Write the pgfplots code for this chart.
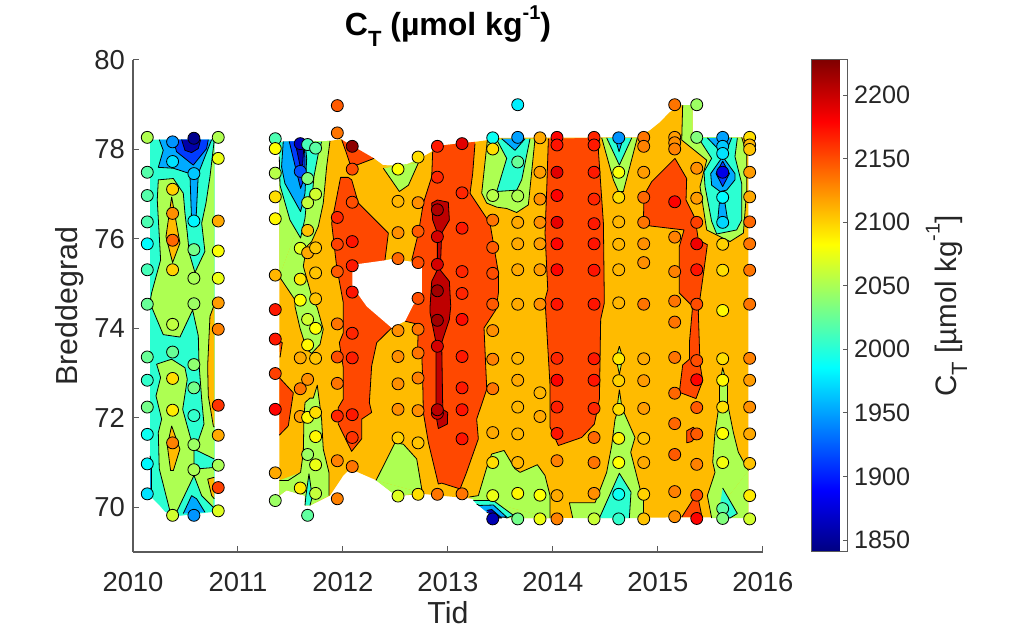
\documentclass[border=0pt]{standalone}
\usepackage{fontspec}
\setmainfont{Liberation Sans}
\usepackage{pgfplots}
\pgfplotsset{compat=1.18}
\definecolor{txt}{RGB}{38,38,38}
\definecolor{axl}{RGB}{90,90,90}
\definecolor{cNavy}{RGB}{0,0,170}
\definecolor{cBluB}{RGB}{0,60,255}
\definecolor{cBlue}{RGB}{0,170,255}
\definecolor{cCyan}{RGB}{44,255,210}
\definecolor{cGren}{RGB}{173,255,82}
\definecolor{cOran}{RGB}{255,187,0}
\definecolor{cRedO}{RGB}{255,72,0}
\definecolor{cDark}{RGB}{190,0,0}
\pgfplotsset{
  lv/.style={fill=#1,draw=black,line width=0.4pt,line join=round,mark=none},
  fo/.style={fill=#1,draw=none,mark=none},
  cl/.style={fill=none,draw=black,line width=0.4pt,line join=round,mark=none},
}
\newcommand{\fs}{\fontsize{12.6}{15}\selectfont}
\newcommand{\ft}{\fontsize{13.7}{16}\selectfont}
\newcommand{\fl}{\fontsize{15.2}{18}\selectfont}
\newcommand{\sbT}{\raisebox{-5.5pt}{\fontsize{11}{12}\selectfont T}}
\newcommand{\spm}{\raisebox{8.2pt}{\fontsize{10}{12}\selectfont -1}}
\begin{document}
\begin{tikzpicture}
\path[use as bounding box] (-66.5pt,-44pt) rectangle (447.5pt,276pt);
\begin{axis}[
  scale only axis, width=315pt, height=246pt,
  xmin=2010, xmax=2016, ymin=69, ymax=80,
  xtick={2010,...,2016}, ytick={70,72,...,80},
  axis lines*=left, axis line style={-,draw=axl,line width=0.6pt},
  tick align=inside, major tick length=3pt, tick style={draw=axl,line width=0.5pt},
  /pgf/number format/1000 sep={}, /pgf/number format/assume math mode=true,
  tick label style={font=\ft,text=txt},
  xticklabel style={yshift=-6.5pt}, yticklabel style={xshift=-0.5pt},
  xlabel={Tid}, ylabel={Breddegrad},
  label style={font=\fl,text=txt},
  xlabel style={yshift=2pt}, ylabel style={yshift=-1.5pt},
  title={\textbf{C\sbT{} (µmol kg\spm)}},
  title style={font=\fontsize{16}{19}\selectfont\bfseries,text=black,yshift=-3pt},
  colormap/jet, point meta min=1840.5, point meta max=2227.5,
  colorbar,
  colorbar shift/.style={xshift=24pt},
  colorbar style={
    at={(parent axis.north east)}, anchor=north west,
    width=18pt, samples=65,
    ytick={1850,1900,...,2200},
    ytick pos=right, yticklabel pos=right,
    tick align=inside, major tick length=2pt,
    axis line style={draw=axl,line width=0.5pt},
    tick style={draw=axl,line width=0.4pt},
    /pgf/number format/1000 sep={},
    /pgf/number format/assume math mode=true,
    tick label style={font=\fs,text=txt},
    ylabel={C\sbT{} [µmol kg\spm]},
    ylabel style={font=\fontsize{14.8}{17}\selectfont,text=txt,yshift=-1pt},
  },
]
% domain of the gridded field
\addplot[fo=cOran] coordinates {(2011.393,78.17)(2011.876,78.19)(2011.981,78.23)(2012.067,78.01)(2012.295,77.80)(2012.381,77.65)(2012.575,77.63)(2012.718,77.78)(2012.845,77.95)(2012.861,78.07)(2013.257,78.17)(2013.384,78.21)(2013.464,78.26)(2014.813,78.27)(2014.924,78.43)(2015.019,78.61)(2015.114,78.84)(2015.226,78.99)(2015.33,78.99)(2015.33,78.28)(2015.797,78.27)(2015.845,78.24)(2015.861,77.91)(2015.861,69.78)(2014.067,69.76)(2013.559,69.76)(2013.273,70.12)(2013.241,70.19)(2012.75,70.30)(2012.511,70.25)(2012.321,70.60)(2012.067,70.86)(2012.003,70.71)(2011.876,70.26)(2011.685,70.04)(2011.638,70.04)(2011.638,70.26)(2011.463,70.38)(2011.393,70.26)};
\addplot[fo=cCyan] coordinates {(2010.162,78.22)(2010.778,78.22)(2010.778,69.90)(2010.448,69.81)(2010.305,69.90)(2010.257,70.03)(2010.21,70.14)(2010.162,70.26)};
% 2010 block
\addplot[lv=cGren] coordinates {(2010.774,78.21)(2010.733,77.39)(2010.695,76.80)(2010.654,76.35)(2010.685,75.72)(2010.59,75.25)(2010.536,75.68)(2010.517,76.13)(2010.495,76.57)(2010.479,77.02)(2010.384,77.35)(2010.241,77.32)(2010.231,76.87)(2010.263,75.53)(2010.177,74.79)(2010.161,74.57)(2010.288,73.86)(2010.447,73.805)(2010.568,74.41)(2010.622,73.83)(2010.628,73.23)(2010.654,72.42)(2010.676,71.86)(2010.622,71.49)(2010.581,71.30)(2010.774,71.08)};
\addplot[lv=cGren] coordinates {(2010.225,73.20)(2010.368,73.31)(2010.495,73.12)(2010.517,72.86)(2010.473,72.19)(2010.542,71.60)(2010.581,71.30)(2010.581,70.71)(2010.40,69.82)(2010.358,69.86)(2010.25,70.86)(2010.241,71.67)(2010.273,71.97)(2010.219,72.49)(2010.263,72.90)(2010.225,73.20)};
\addplot[lv=cGren] coordinates {(2010.774,70.89)(2010.622,70.86)(2010.581,70.71)(2010.654,70.26)(2010.765,70.00)};
\addplot[lv=cOran] coordinates {(2010.774,74.53)(2010.733,74.27)(2010.711,73.16)(2010.717,72.49)(2010.765,71.82)(2010.774,71.79)};
\addplot[lv=cOran] coordinates {(2010.774,70.67)(2010.711,70.63)(2010.749,70.26)(2010.774,70.19)};
\addplot[lv=cOran] coordinates {(2010.368,76.94)(2010.447,75.905)(2010.377,75.47)(2010.314,76.05)(2010.368,76.94)};
\addplot[lv=cOran] coordinates {(2010.368,71.82)(2010.447,71.30)(2010.384,70.82)(2010.358,70.82)(2010.327,71.38)(2010.368,71.82)};
\addplot[lv=cBlue] coordinates {(2010.25,78.22)(2010.288,77.98)(2010.241,77.60)(2010.384,77.58)(2010.542,77.46)(2010.558,76.42)(2010.6,76.42)(2010.622,77.46)(2010.749,78.22)};
\addplot[lv=cBluB] coordinates {(2010.384,78.22)(2010.415,77.95)(2010.574,77.65)(2010.701,78.02)(2010.717,78.22)};
\addplot[lv=cNavy] coordinates {(2010.463,78.22)(2010.495,77.98)(2010.558,77.93)(2010.622,78.02)(2010.644,78.22)};
\addplot[lv=cBlue] coordinates {(2010.479,69.86)(2010.558,70.26)(2010.606,70.19)(2010.685,69.89)};
\addplot[lv=cBlue] coordinates {(2010.162,71.15)(2010.175,71.00)(2010.175,70.41)(2010.162,70.41)};
% 2011 left part
\addplot[fo=cGren] coordinates {(2011.876,78.19)(2011.393,78.17)(2011.393,75.16)};
\addplot[lv=cGren] coordinates {(2011.393,75.16)(2011.542,74.64)(2011.542,74.50)(2011.59,74.01)(2011.654,73.53)(2011.701,73.44)(2011.781,73.64)(2011.812,73.98)(2011.755,74.46)(2011.711,74.64)(2011.622,75.39)(2011.654,75.83)(2011.701,75.94)(2011.765,76.28)(2011.812,76.80)(2011.844,77.61)(2011.876,78.19)};
\addplot[fo=cCyan] coordinates {(2011.393,77.84)(2011.393,78.17)(2011.796,78.17)};
\addplot[lv=cCyan] coordinates {(2011.796,78.17)(2011.765,77.91)(2011.723,77.39)(2011.711,77.06)(2011.654,76.87)(2011.638,76.46)(2011.596,76.02)(2011.495,76.42)(2011.40,77.20)(2011.393,77.84)};
\addplot[lv=cBlue] coordinates {(2011.431,78.18)(2011.415,77.61)(2011.447,77.24)(2011.596,76.61)(2011.638,77.02)(2011.654,77.80)(2011.638,78.18)};
\addplot[lv=cBluB] coordinates {(2011.488,78.18)(2011.542,77.65)(2011.596,77.13)(2011.638,77.39)(2011.638,77.80)(2011.628,78.18)};
\addplot[lv=cNavy] coordinates {(2011.542,78.18)(2011.59,77.65)(2011.615,77.65)(2011.631,78.18)};
\addplot[lv=cRedO] coordinates {(2011.393,72.90)(2011.527,72.56)(2011.479,71.82)(2011.393,71.61)};
\addplot[lv=cRedO] coordinates {(2011.393,73.72)(2011.422,73.68)(2011.40,73.35)};
\addplot[fo=cGren] coordinates {(2011.866,70.78)(2011.866,70.26)(2011.685,70.04)(2011.638,70.04)(2011.638,70.26)(2011.463,70.38)(2011.393,70.26)(2011.393,70.60)(2011.60,70.78)};
\addplot[lv=cGren] coordinates {(2011.393,70.60)(2011.479,70.60)(2011.596,70.78)(2011.622,71.23)(2011.628,71.97)(2011.638,72.34)(2011.685,72.44)(2011.717,72.44)(2011.755,72.73)(2011.796,71.97)(2011.812,71.30)(2011.866,70.78)(2011.866,70.26)};
\addplot[lv=cCyan] coordinates {(2011.638,70.04)(2011.647,70.26)(2011.676,70.75)(2011.707,70.23)(2011.685,70.04)};
% red-orange around the hole
\addplot[lv=cRedO] coordinates {(2011.987,78.22)(2012.034,77.91)(2012.073,77.63)(2012.13,77.65)(2012.296,77.80)};
\addplot[lv=cRedO] coordinates {(2012.40,75.53)(2012.432,76.13)(2012.146,76.80)(2012.083,77.32)(2012.05,77.375)(2011.977,77.375)(2011.892,76.35)(2011.939,75.39)(2012.003,74.57)(2012.003,73.90)(2011.965,73.68)(2012.003,73.12)(2012.003,72.42)(2011.955,72.23)(2011.955,71.86)(2012.082,71.25)(2012.178,71.53)(2012.178,71.97)(2012.273,72.12)(2012.251,72.34)(2012.273,73.16)(2012.321,73.68)(2012.464,74.01)};
\addplot[lv=cGren] coordinates {(2012.384,77.58)(2012.537,77.06)(2012.623,77.20)(2012.718,77.70)};
\addplot[fo=cGren] coordinates {(2012.384,77.62)(2012.575,77.63)(2012.718,77.78)(2012.718,77.70)};
\addplot[fo=cGren] coordinates {(2012.756,70.32)(2012.511,70.25)(2012.315,70.60)};
\addplot[lv=cGren] coordinates {(2012.315,70.60)(2012.495,71.44)(2012.575,71.41)(2012.702,71.08)(2012.756,70.32)};
% 2013 red-orange and dark red
\addplot[fo=cRedO] coordinates {(2012.654,75.52)(2012.718,76.13)(2012.765,76.80)(2012.845,77.39)(2012.854,77.95)(2012.861,78.07)(2013.257,78.17)(2013.257,78.13)(2013.235,77.46)(2013.21,77.02)(2013.40,76.35)(2013.48,75.24)(2013.48,74.79)(2013.457,74.42)(2013.343,74.01)(2013.369,72.64)(2013.273,71.97)(2013.289,71.53)(2013.172,70.75)(2013.115,70.41)(2012.94,70.54)(2012.908,70.52)(2012.813,71.45)(2012.765,72.12)(2012.759,72.86)(2012.75,73.42)(2012.711,73.57)(2012.718,74.09)(2012.591,74.16)};
\addplot[cl] coordinates {(2012.654,75.52)(2012.718,76.13)(2012.765,76.80)(2012.845,77.39)(2012.854,77.95)};
\addplot[cl] coordinates {(2013.257,78.13)(2013.235,77.46)(2013.21,77.02)(2013.40,76.35)(2013.48,75.24)(2013.48,74.79)(2013.457,74.42)(2013.343,74.01)(2013.369,72.64)(2013.273,71.97)(2013.289,71.53)(2013.172,70.75)(2013.115,70.41)(2012.94,70.54)(2012.908,70.52)(2012.813,71.45)(2012.765,72.12)(2012.759,72.86)(2012.75,73.42)(2012.711,73.57)(2012.718,74.09)(2012.591,74.16)};
\addplot[lv=cDark] coordinates {(2012.899,76.87)(2013.003,76.82)(2013.013,76.42)(2012.94,76.13)(2012.931,75.57)(2012.924,75.31)(2013.013,75.05)(2013.026,74.49)(2013.013,74.20)(2012.94,73.68)(2012.95,72.19)(2012.997,72.12)(2012.994,71.86)(2012.908,71.76)(2012.886,72.05)(2012.886,73.68)(2012.829,74.35)(2012.829,74.49)(2012.845,75.05)(2012.899,75.31)(2012.899,76.13)(2012.854,76.42)(2012.845,76.80)(2012.899,76.87)};
% 2013.5 - 2014 top and bottom
\addplot[lv=cGren] coordinates {(2013.375,78.21)(2013.321,77.02)(2013.369,76.80)(2013.464,76.71)(2013.559,76.68)(2013.654,76.59)(2013.765,76.76)(2013.829,78.24)};
\addplot[lv=cCyan] coordinates {(2013.464,78.22)(2013.559,77.80)(2013.464,77.06)(2013.654,77.09)(2013.702,77.32)(2013.781,78.24)};
\addplot[lv=cBlue] coordinates {(2013.511,78.24)(2013.638,77.98)(2013.734,78.24)};
\addplot[fo=cGren] coordinates {(2013.972,69.76)(2013.559,69.76)(2013.273,70.12)(2013.203,70.23)};
\addplot[lv=cGren] coordinates {(2013.203,70.23)(2013.289,70.26)(2013.369,70.89)(2013.416,71.19)(2013.534,71.27)(2013.638,70.86)(2013.686,70.78)(2013.851,70.95)(2013.924,70.71)(2013.972,70.26)(2013.972,69.76)};
\addplot[lv=cCyan] coordinates {(2013.241,70.15)(2013.432,70.15)(2013.623,69.82)(2013.559,69.76)(2013.273,70.07)};
\addplot[lv=cBlue] coordinates {(2013.289,70.04)(2013.432,70.05)(2013.559,69.78)(2013.464,69.78)(2013.369,69.89)};
\addplot[lv=cNavy] coordinates {(2013.369,69.93)(2013.416,69.95)(2013.511,69.76)(2013.432,69.76)};
\addplot[lv=cRedO] coordinates {(2013.956,78.24)(2013.94,77.09)(2013.924,76.13)(2013.95,74.87)(2013.924,74.644)(2013.972,72.71)(2013.972,71.79)(2014.051,71.38)(2014.273,71.56)(2014.394,71.86)(2014.442,72.42)(2014.454,74.20)(2014.489,74.57)(2014.48,76.35)(2014.432,77.98)(2014.442,78.26)};
% 2014.6 column
\addplot[lv=cGren] coordinates {(2014.464,78.26)(2014.575,77.32)(2014.623,77.06)(2014.67,77.06)(2014.803,78.26)};
\addplot[lv=cCyan] coordinates {(2014.511,78.26)(2014.632,77.65)(2014.75,78.26)};
\addplot[lv=cBlue] coordinates {(2014.591,78.26)(2014.629,77.95)(2014.67,78.26)};
\addplot[lv=cGren] coordinates {(2014.632,73.60)(2014.664,73.34)(2014.632,72.97)(2014.60,73.34)(2014.632,73.60)};
\addplot[lv=cGren] coordinates {(2014.632,72.63)(2014.654,72.27)(2014.613,72.27)(2014.632,72.63)};
\addplot[lv=cGren] coordinates {(2014.188,69.76)(2014.156,70.10)(2014.40,70.10)(2014.511,70.78)(2014.559,71.38)(2014.591,71.97)(2014.632,72.27)(2014.676,72.12)(2014.781,71.56)(2014.74,71.23)(2014.829,70.41)(2014.861,70.19)(2014.861,69.76)};
\addplot[lv=cCyan] coordinates {(2014.442,69.76)(2014.632,70.76)(2014.743,70.34)(2014.727,69.76)};
% 2015 red-orange
\addplot[lv=cRedO] coordinates {(2015.162,77.80)(2014.94,77.28)(2014.867,76.98)(2014.861,76.39)(2014.924,76.29)(2015.248,76.20)(2015.203,75.83)(2015.203,74.79)(2015.321,74.51)(2015.327,74.42)(2015.299,73.68)(2015.299,73.31)(2015.235,73.18)(2015.203,72.57)(2015.362,72.43)(2015.426,72.83)(2015.40,73.20)(2015.384,74.35)(2015.394,74.57)(2015.438,75.31)(2015.47,75.87)(2015.384,75.98)(2015.353,76.46)(2015.267,76.87)(2015.273,77.35)(2015.162,77.80)};
\addplot[lv=cRedO] coordinates {(2015.273,71.71)(2015.337,71.79)(2015.384,71.64)(2015.321,71.47)(2015.273,71.44)(2015.273,71.71)};
\addplot[lv=cRedO] coordinates {(2015.226,69.78)(2015.337,70.19)(2015.384,70.19)(2015.419,69.78)};
% 2015.6 column
\addplot[fo=cGren] coordinates {(2015.235,78.99)(2015.226,78.21)(2015.464,77.76)(2015.40,77.17)(2015.464,76.20)(2015.686,75.94)(2015.813,76.13)(2015.845,77.09)(2015.845,77.91)(2015.797,78.27)(2015.33,78.28)(2015.33,78.99)};
\addplot[cl] coordinates {(2015.235,78.99)(2015.226,78.21)(2015.464,77.76)(2015.40,77.17)(2015.464,76.20)(2015.686,75.94)(2015.813,76.13)(2015.845,77.09)(2015.845,77.91)(2015.797,78.27)};
\addplot[lv=cCyan] coordinates {(2015.384,78.26)(2015.511,77.80)(2015.438,77.50)(2015.448,77.17)(2015.511,76.39)(2015.559,76.11)(2015.749,76.20)(2015.797,76.42)(2015.797,77.24)(2015.733,77.84)(2015.756,78.26)};
\addplot[lv=cBlue] coordinates {(2015.47,78.26)(2015.584,77.98)(2015.654,77.98)(2015.702,78.26)};
\addplot[lv=cBlue] coordinates {(2015.616,77.84)(2015.733,77.46)(2015.733,77.32)(2015.654,77.09)(2015.591,77.06)(2015.511,77.20)(2015.502,77.46)(2015.616,77.84)};
\addplot[lv=cBluB] coordinates {(2015.616,77.74)(2015.68,77.46)(2015.616,77.17)(2015.553,77.46)(2015.616,77.74)};
\addplot[lv=cBlue] coordinates {(2015.584,76.80)(2015.565,76.31)(2015.67,76.31)(2015.638,76.80)(2015.584,76.80)};
\addplot[fo=cGren] coordinates {(2015.861,70.82)(2015.861,69.76)(2015.511,69.76)};
\addplot[lv=cGren] coordinates {(2015.511,69.76)(2015.47,70.26)(2015.543,70.78)(2015.521,71.01)(2015.543,71.67)(2015.585,72.34)(2015.585,72.71)(2015.616,73.12)(2015.661,72.71)(2015.661,72.34)(2015.718,71.67)(2015.765,71.23)(2015.861,70.82)};
\addplot[lv=cCyan] coordinates {(2015.616,70.43)(2015.756,69.86)(2015.686,69.76)(2015.575,69.82)};
% hole without data
\addplot[fo=white] coordinates {(2012.089,75.42)(2012.40,75.52)(2012.464,75.55)(2012.75,75.46)(2012.75,74.644)(2012.67,74.53)(2012.623,74.31)(2012.591,74.16)(2012.464,74.01)(2012.226,74.49)(2012.089,74.94)};
% stations: (time, latitude) [C_T]
\addplot[scatter, only marks, mark=*, mark size=3pt, point meta=explicit,
  scatter/use mapped color={draw=black,fill=mapped color}, line width=0.4pt] coordinates {
(2010.136,78.27)[2052] (2010.136,77.49)[2018] (2010.136,76.97)[2018] (2010.136,76.38)[2015] (2010.136,75.89)[1985] (2010.136,75.31)[2012] (2010.136,74.54)[2025] (2010.136,73.36)[2025] (2010.136,72.84)[2005] (2010.136,72.24)[2030] (2010.136,71.63)[1990] (2010.136,70.97)[1983] (2010.136,70.30)[1975]
(2010.377,78.17)[1945] (2010.377,77.73)[1975] (2010.377,77.11)[2100] (2010.377,76.57)[2125] (2010.377,75.97)[2140] (2010.377,75.31)[2100] (2010.377,74.09)[2058] (2010.377,73.47)[2025] (2010.377,72.88)[2095] (2010.377,72.17)[2090] (2010.377,71.44)[2130] (2010.377,69.82)[2065]
(2010.58,78.25)[1845] (2010.58,77.46)[1965] (2010.58,76.40)[1983] (2010.58,75.76)[2030] (2010.58,75.12)[2050] (2010.58,74.55)[2045] (2010.58,73.19)[2040] (2010.58,72.67)[2030] (2010.58,72.05)[2005] (2010.58,71.40)[2045] (2010.58,70.84)[2050] (2010.58,69.82)[1945]
(2010.812,78.27)[2052] (2010.812,77.80)[2075] (2010.812,76.40)[2115] (2010.812,75.73)[2080] (2010.812,75.12)[2075] (2010.812,74.57)[2120] (2010.812,73.98)[2130] (2010.812,72.28)[2160] (2010.812,71.61)[2115] (2010.812,70.94)[2050] (2010.812,70.44)[2155] (2010.812,69.92)[2070]
(2011.355,78.24)[2015] (2011.355,78.02)[2082] (2011.355,77.47)[2055] (2011.355,76.94)[2095] (2011.355,76.45)[2085] (2011.355,75.19)[2110] (2011.355,74.42)[2170] (2011.355,73.76)[2170] (2011.355,72.99)[2155] (2011.355,72.19)[2178] (2011.355,70.77)[2115] (2011.355,70.15)[2045]
(2011.593,78.13)[1865] (2011.593,77.51)[1920] (2011.593,75.79)[2072] (2011.593,75.10)[2092] (2011.593,74.63)[2082] (2011.593,73.34)[2115] (2011.593,72.65)[2135] (2011.593,72.03)[2120] (2011.593,70.43)[2090]
(2011.663,78.11)[2012] (2011.663,77.35)[2035] (2011.663,76.81)[2060] (2011.663,76.19)[2105] (2011.663,75.69)[2115] (2011.663,74.20)[2065] (2011.663,73.63)[2085] (2011.663,72.86)[2125] (2011.663,72.01)[2085] (2011.663,71.18)[2045] (2011.663,69.82)[2022]
(2011.739,78.03)[2020] (2011.739,77.00)[2065] (2011.739,75.80)[2105] (2011.739,75.24)[2105] (2011.739,74.66)[2105] (2011.739,74.00)[2082] (2011.739,73.33)[2105] (2011.739,72.12)[2095] (2011.739,71.58)[2085] (2011.739,70.95)[2075] (2011.739,70.31)[2060]
(2011.946,78.98)[2145] (2011.946,78.37)[2135] (2011.946,76.48)[2165] (2011.946,75.88)[2155] (2011.946,75.27)[2145] (2011.946,74.10)[2135] (2011.946,73.36)[2150] (2011.946,72.77)[2135] (2011.946,72.04)[2165] (2011.946,71.04)[2130] (2011.946,70.19)[2130]
(2012.088,78.07)[2222] (2012.088,77.56)[2150] (2012.088,76.82)[2150] (2012.088,75.94)[2172] (2012.088,75.40)[2170] (2012.088,74.81)[2172] (2012.088,73.89)[2165] (2012.088,73.34)[2168] (2012.088,72.07)[2170] (2012.088,71.56)[2160] (2012.088,70.91)[2135]
(2012.524,77.56)[2082] (2012.524,76.84)[2110] (2012.524,76.14)[2125] (2012.524,75.56)[2140] (2012.524,73.95)[2125] (2012.524,73.37)[2125] (2012.524,72.76)[2125] (2012.524,72.19)[2125] (2012.524,71.55)[2100] (2012.524,70.25)[2070]
(2012.715,77.83)[2095] (2012.715,76.81)[2125] (2012.715,76.17)[2145] (2012.715,75.47)[2150] (2012.715,74.67)[2150] (2012.715,73.98)[2135] (2012.715,73.45)[2135] (2012.715,72.89)[2130] (2012.715,72.16)[2125] (2012.715,71.44)[2105] (2012.715,70.29)[2095]
(2012.899,78.07)[2170] (2012.899,77.38)[2165] (2012.899,76.65)[2210] (2012.899,76.05)[2195] (2012.899,75.43)[2195] (2012.899,74.84)[2215] (2012.899,74.18)[2215] (2012.899,73.60)[2195] (2012.899,72.10)[2195] (2012.899,72.18)[2205] (2012.899,70.29)[2135]
(2013.134,78.13)[2190] (2013.134,77.03)[2165] (2013.134,76.24)[2170] (2013.134,75.27)[2165] (2013.134,74.78)[2165] (2013.134,74.20)[2175] (2013.134,73.37)[2170] (2013.134,72.67)[2170] (2013.134,72.18)[2172] (2013.134,71.53)[2172] (2013.134,70.30)[2135]
(2013.426,78.26)[1990] (2013.426,78.01)[2095] (2013.426,76.97)[2055] (2013.426,76.42)[2135] (2013.426,75.81)[2145] (2013.426,75.23)[2150] (2013.426,74.54)[2145] (2013.426,73.95)[2125] (2013.426,73.31)[2130] (2013.426,72.65)[2135] (2013.426,71.67)[2115] (2013.426,71.00)[2095] (2013.426,70.26)[2075] (2013.426,69.74)[1860]
(2013.664,79.00)[1980] (2013.664,78.27)[1950] (2013.664,77.72)[2025] (2013.664,76.96)[2052] (2013.664,76.37)[2115] (2013.664,75.89)[2115] (2013.664,75.31)[2115] (2013.664,74.54)[2115] (2013.664,73.33)[2110] (2013.664,72.84)[2115] (2013.664,72.24)[2110] (2013.664,71.64)[2110] (2013.664,71.00)[2110] (2013.664,70.31)[2085] (2013.664,69.74)[2030]
(2013.876,78.26)[2115] (2013.876,77.49)[2120] (2013.876,76.89)[2125] (2013.876,76.37)[2125] (2013.876,75.89)[2120] (2013.876,75.31)[2120] (2013.876,74.54)[2125] (2013.876,72.56)[2110] (2013.876,72.03)[2115] (2013.876,70.27)[2082] (2013.876,69.74)[2075]
(2014.038,78.27)[2178] (2014.038,78.10)[2172] (2014.038,77.49)[2190] (2014.038,76.97)[2180] (2014.038,76.37)[2188] (2014.038,75.89)[2178] (2014.038,75.31)[2178] (2014.038,74.54)[2172] (2014.038,73.33)[2165] (2014.038,72.84)[2180] (2014.038,72.24)[2168] (2014.038,71.65)[2172] (2014.038,71.04)[2130] (2014.038,70.26)[2115] (2014.038,69.74)[2130]
(2014.391,78.27)[2165] (2014.391,78.10)[2170] (2014.391,77.49)[2170] (2014.391,76.89)[2165] (2014.391,76.34)[2170] (2014.391,75.89)[2172] (2014.391,75.30)[2172] (2014.391,74.54)[2172] (2014.391,73.32)[2170] (2014.391,72.84)[2172] (2014.391,72.21)[2165] (2014.391,71.56)[2140] (2014.391,71.00)[2135] (2014.391,70.31)[2125] (2014.391,69.74)[2062]
(2014.626,78.26)[1945] (2014.626,77.49)[2080] (2014.626,76.93)[2095] (2014.626,76.38)[2110] (2014.626,75.88)[2110] (2014.626,75.31)[2110] (2014.626,74.57)[2110] (2014.626,73.32)[2090] (2014.626,72.83)[2100] (2014.626,72.19)[2095] (2014.626,71.54)[2088] (2014.626,71.00)[2082] (2014.626,70.29)[1990] (2014.626,69.74)[2005]
(2014.864,78.27)[2135] (2014.864,78.07)[2130] (2014.864,77.49)[2120] (2014.864,76.93)[2140] (2014.864,76.37)[2135] (2014.864,75.89)[2125] (2014.864,75.47)[2125] (2014.864,74.54)[2135] (2014.864,73.32)[2115] (2014.864,72.83)[2120] (2014.864,72.21)[2120] (2014.864,71.54)[2105] (2014.864,71.00)[2115] (2014.864,70.29)[2100] (2014.864,69.74)[2105]
(2015.159,79.00)[2135] (2015.159,78.27)[2120] (2015.159,78.15)[2125] (2015.159,78.01)[2130] (2015.159,76.83)[2180] (2015.159,76.04)[2130] (2015.159,75.27)[2130] (2015.159,74.61)[2135] (2015.159,74.14)[2135] (2015.159,73.35)[2135] (2015.159,72.55)[2140] (2015.159,71.87)[2140] (2015.159,71.18)[2145] (2015.159,70.35)[2130] (2015.159,69.79)[2125]
(2015.369,79.00)[2045] (2015.369,78.27)[2035] (2015.369,77.58)[2125] (2015.369,76.91)[2120] (2015.369,76.37)[2155] (2015.369,75.89)[2185] (2015.369,75.31)[2172] (2015.369,74.54)[2150] (2015.369,73.28)[2150] (2015.369,72.85)[2178] (2015.369,72.23)[2145] (2015.369,71.64)[2145] (2015.369,70.96)[2130] (2015.369,70.27)[2150] (2015.369,69.75)[2178]
(2015.616,78.27)[1950] (2015.616,78.07)[1965] (2015.616,77.91)[1975] (2015.616,77.49)[1880] (2015.616,76.93)[1985] (2015.616,76.37)[1970] (2015.616,75.88)[2100] (2015.616,75.30)[2095] (2015.616,74.40)[2085] (2015.616,73.32)[2095] (2015.616,72.84)[2085] (2015.616,72.24)[2095] (2015.616,71.65)[2082] (2015.616,71.00)[2078] (2015.616,69.97)[2020] (2015.616,69.75)[2035]
(2015.873,78.27)[2095] (2015.873,78.10)[2110] (2015.873,78.00)[2105] (2015.873,77.49)[2120] (2015.873,76.94)[2115] (2015.873,76.38)[2140] (2015.873,75.89)[2135] (2015.873,75.30)[2135] (2015.873,74.54)[2135] (2015.873,73.33)[2130] (2015.873,72.84)[2120] (2015.873,72.24)[2125] (2015.873,71.64)[2115] (2015.873,70.98)[2105] (2015.873,70.26)[2090] (2015.873,69.74)[2065]
};
\end{axis}
\end{tikzpicture}
\end{document}
